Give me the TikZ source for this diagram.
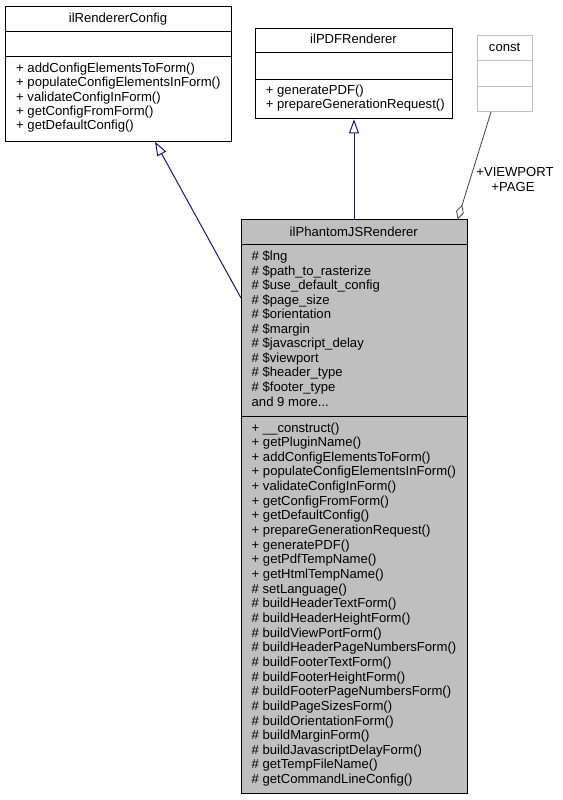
\documentclass[tikz,border=0pt]{standalone}
\usepackage{fontspec}
\setmainfont{Liberation Sans}
\usetikzlibrary{arrows.meta}
\definecolor{edgeblue}{HTML}{191970}
\definecolor{edgegray}{HTML}{404040}
\definecolor{boxgray}{HTML}{BFBFBF}
\begin{document}
\begin{tikzpicture}[x=1pt,y=-1pt,
  txt/.style={inner sep=0pt, anchor=base west, font=\fontsize{13.1}{14.5}\selectfont},
  ttl/.style={inner sep=0pt, anchor=base, font=\fontsize{13.1}{14.5}\selectfont},
  clsbox/.style={draw=black, line width=1pt, inner sep=0pt, anchor=north west, rectangle},
  constbox/.style={draw=boxgray, line width=1pt, inner sep=0pt, anchor=north west, rectangle},
  inherit/.style={draw=edgeblue, line width=1pt, -{Triangle[open,length=14pt,width=10pt]}},
  usage/.style={draw=edgegray, line width=0.8pt, {Diamond[open,length=15pt,width=8pt]}-}
]
\useasboundingbox (0,0) rectangle (562,800);

% ilRendererConfig
\node[clsbox, minimum width=225.7pt, minimum height=135pt] (rc) at (5,5.7) {};
\draw[line width=1pt] ([yshift=-26pt]rc.north west) -- ([yshift=-26pt]rc.north east);
\draw[line width=1pt] ([yshift=-51pt]rc.north west) -- ([yshift=-51pt]rc.north east);
\node[ttl] (rct) at (118,22.5) {ilRendererConfig};
\foreach \t [count=\i from 0] in {+ addConfigElementsToForm(), + populateConfigElementsInForm(), + validateConfigInForm(), + getConfigFromForm(), + getDefaultConfig()}
  \node[txt] (rcm\i) at (16,72.5+\i*14.25) {\t};

% ilPDFRenderer
\node[clsbox, minimum width=197.6pt, minimum height=90.6pt] (pdf) at (254.7,27.7) {};
\draw[line width=1pt] ([yshift=-25pt]pdf.north west) -- ([yshift=-25pt]pdf.north east);
\draw[line width=1pt] ([yshift=-51.3pt]pdf.north west) -- ([yshift=-51.3pt]pdf.north east);
\node[ttl] (pdft) at (353.5,43.5) {ilPDFRenderer};
\foreach \t [count=\i from 0] in {+ generatePDF(), + prepareGenerationRequest()}
  \node[txt] (pdfm\i) at (265.7,94+\i*14.5) {\t};

% const
\node[constbox, minimum width=54.7pt, minimum height=76pt] (cst) at (477.3,35) {};
\draw[boxgray, line width=1pt] ([yshift=-25.7pt]cst.north west) -- ([yshift=-25.7pt]cst.north east);
\draw[boxgray, line width=1pt] ([yshift=-51pt]cst.north west) -- ([yshift=-51pt]cst.north east);
\node[ttl] (cstt) at (504.6,51.5) {const};

% ilPhantomJSRenderer
\node[clsbox, fill=boxgray, minimum width=225.7pt, minimum height=574pt] (ph) at (241,219.3) {};
\draw[line width=1pt] ([yshift=-25pt]ph.north west) -- ([yshift=-25pt]ph.north east);
\draw[line width=1pt] ([yshift=-197pt]ph.north west) -- ([yshift=-197pt]ph.north east);
\node[ttl] (pht) at (353.8,236) {ilPhantomJSRenderer};
\foreach \t [count=\i from 0] in {{\# \$lng}, {\# \$path\_to\_rasterize}, {\# \$use\_default\_config}, {\# \$page\_size}, {\# \$orientation}, {\# \$margin}, {\# \$javascript\_delay}, {\# \$viewport}, {\# \$header\_type}, {\# \$footer\_type}, {and 9 more.{}.{}.}}
  \node[txt] (pha\i) at (251.5,260.5+\i*14.55) {\t};
\foreach \t [count=\i from 0] in {+ \_\_construct(), + getPluginName(), + addConfigElementsToForm(), + populateConfigElementsInForm(), + validateConfigInForm(), + getConfigFromForm(), + getDefaultConfig(), + prepareGenerationRequest(), + generatePDF(), + getPdfTempName(), + getHtmlTempName(), \# setLanguage(), \# buildHeaderTextForm(), \# buildHeaderHeightForm(), \# buildViewPortForm(), \# buildHeaderPageNumbersForm(), \# buildFooterTextForm(), \# buildFooterHeightForm(), \# buildFooterPageNumbersForm(), \# buildPageSizesForm(), \# buildOrientationForm(), \# buildMarginForm(), \# buildJavascriptDelayForm(), \# getTempFileName(), \# getCommandLineConfig()}
  \node[txt] (phm\i) at (251.5,432+\i*14.65) {\t};

% connectors
\draw[inherit] ([yshift=-78.7pt]ph.north west) -- ([xshift=150pt]rc.south west);
\draw[inherit] (ph.north -| pdf.south) -- (pdf.south);
\draw[usage] ([xshift=-10pt]ph.north east) -- ([xshift=13.7pt]cst.south west);
\node[ttl] (lbl1) at (515,176.5) {+VIEWPORT};
\node[ttl] (lbl2) at (513,191) {+PAGE};
\end{tikzpicture}
\end{document}
